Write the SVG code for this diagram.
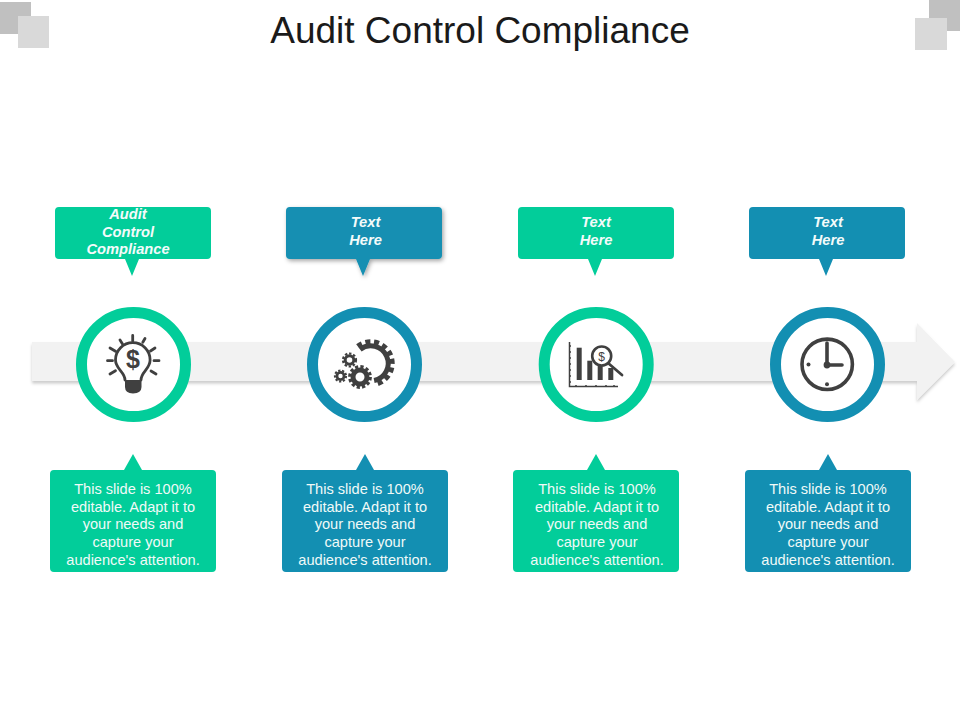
<svg xmlns="http://www.w3.org/2000/svg" width="960" height="720" viewBox="0 0 960 720">
<style>
.t{font-family:"Liberation Sans",Arial,sans-serif;text-anchor:middle;fill:#fff}
.h{font-size:14.7px;font-weight:bold;font-style:italic;fill:#f4fbfa}
.b{font-size:14.6px;fill:#f0faf8}
.g{fill:#02cd9a}.u{fill:#138fb2}
.rg{fill:#fff;stroke:#02cd9a;stroke-width:11}.ru{fill:#fff;stroke:#138fb2;stroke-width:11}
.i{fill:none;stroke:#404040;stroke-width:2.8;stroke-linecap:round}
.d{fill:#404040}
.gr{fill:none;stroke:#404040}
</style>
<defs>
<filter id="s" x="-10%" y="-20%" width="120%" height="150%"><feDropShadow dx="0" dy="2.500" stdDeviation="1.500" flood-color="#000" flood-opacity=".2"/></filter>
<filter id="s2" x="-10%" y="-20%" width="120%" height="150%"><feDropShadow dx="1.500" dy="2" stdDeviation="2" flood-color="#000" flood-opacity=".35"/></filter>
<path id="top" d="M4 0H152a4 4 0 0 1 4 4V48a4 4 0 0 1-4 4H84L77 69 70 52H4a4 4 0 0 1-4-4V4a4 4 0 0 1 4-4Z"/>
<path id="bot" d="M4 16H74L83 0 92 16H162a4 4 0 0 1 4 4V114a4 4 0 0 1-4 4H4a4 4 0 0 1-4-4V20a4 4 0 0 1 4-4Z"/>
</defs>
<rect width="960" height="720" fill="#fff"/>
<g id="corners">
<rect x="0" y="2" width="31" height="32" fill="#c0c0c0"/>
<rect x="18" y="16" width="31" height="32" fill="#d9d9d9"/>
<rect x="929" y="0" width="31" height="31" fill="#c0c0c0"/>
<rect x="915" y="18" width="32" height="32" fill="#d9d9d9"/>
</g>
<text id="title" x="480" y="43" font-family="'Liberation Sans',Arial,sans-serif" font-size="37" text-anchor="middle" fill="#1a1a1a">Audit Control Compliance</text>
<g id="connectors">
<path id="arrow" d="M32 342H917V323L955 362 917 400V381H32Z" fill="#f2f2f2" filter="url(#s)"/>
</g>
<g id="node-1">
<use href="#top" x="55" y="207" class="g"/>
<text class="t h"><tspan x="128" y="218.500">Audit</tspan><tspan x="128" y="236.500">Control</tspan><tspan x="128" y="254">Compliance</tspan></text>
<circle cx="133.500" cy="364.500" r="52" class="rg"/>
<g class="i">
<path d="M125 380C125 372 115.500 369 115.500 360a17.300 17.300 0 1 1 34.600 0C150.100 369 141 372 141 380"/>
<path d="M132.700 335.500v5.500M120 340l2.500 4M145 338.500l-2.200 3.800M110 348l5.500 3.300M155 348l-4.500 3M107.500 360.700h5M159 360.700h-5M110 374l5.500-3.300M156 374l-5-3"/>
</g>
<path class="d" d="M125 380H141.500V387Q141.500 393 133 393.500 125 393 125 387Z"/>
<text x="133" y="368" font-family="'Liberation Sans',sans-serif" font-size="25" font-weight="bold" text-anchor="middle" fill="#404040">$</text>
</g>
<g id="node-2">
<use href="#top" x="286" y="207" class="u" filter="url(#s2)"/>
<text class="t h"><tspan x="365.500" y="226.500">Text</tspan><tspan x="365.500" y="244.500">Here</tspan></text>
<circle cx="364.500" cy="364.500" r="52" class="ru"/>
<path class="gr" d="M360.100 349.400A17.500 17.500 0 1 1 374.100 380.500" stroke-width="5"/>
<path class="gr" d="M357.700 346.200A21.500 21.500 0 1 1 374.900 384.400" stroke-width="5" stroke-dasharray="5 3.600"/>
<circle class="gr" cx="360" cy="377" r="7" stroke-width="5"/>
<circle class="gr" cx="360" cy="377" r="10.300" stroke-width="3.200" stroke-dasharray="3.200 2.200"/>
<circle class="gr" cx="349.500" cy="360" r="4.300" stroke-width="3"/>
<circle class="gr" cx="349.500" cy="360" r="6.500" stroke-width="2.200" stroke-dasharray="2.400 1.800"/>
<circle class="gr" cx="340.500" cy="376" r="3.600" stroke-width="2.800"/>
<circle class="gr" cx="340.500" cy="376" r="5.600" stroke-width="2" stroke-dasharray="2.200 1.700"/>
</g>
<g id="node-3">
<use href="#top" x="518" y="207" class="g"/>
<text class="t h"><tspan x="596" y="226.500">Text</tspan><tspan x="596" y="244.500">Here</tspan></text>
<circle cx="596.200" cy="364.500" r="52" class="rg"/>
<path d="M569.500 342V386.500H618" fill="none" stroke="#404040" stroke-width="1.500"/>
<path d="M571 346h-1M571 352h-1M571 358h-1M571 364h-1M571 370h-1M571 376h-1M571 382h-1M576 385v1M586 385v1M596 385v1M606 385v1M614 385v1" stroke="#404040" stroke-width="1.500"/>
<rect class="d" x="576.700" y="347.700" width="5" height="32.300"/>
<rect class="d" x="587.300" y="360.700" width="5" height="19.300"/>
<rect class="d" x="597.700" y="366" width="5" height="14"/>
<rect class="d" x="608.300" y="368" width="5" height="12"/>
<path d="M608 363L622 375" stroke="#404040" stroke-width="2.800" stroke-linecap="round"/>
<circle cx="601.700" cy="356" r="9.500" fill="#fff" stroke="#404040" stroke-width="2.600"/>
<text x="601.700" y="360.500" font-family="'Liberation Sans',sans-serif" font-size="12" text-anchor="middle" fill="#404040">$</text>
</g>
<g id="node-4">
<use href="#top" x="749" y="207" class="u"/>
<text class="t h"><tspan x="828" y="226.500">Text</tspan><tspan x="828" y="244.500">Here</tspan></text>
<circle cx="827.500" cy="364.500" r="52" class="ru"/>
<circle cx="827.200" cy="364.300" r="25.200" fill="#fff" stroke="#404040" stroke-width="3.600"/>
<path d="M827 343V365H842" fill="none" stroke="#404040" stroke-width="3.600" stroke-linecap="round"/>
<circle class="d" cx="827" cy="365" r="3.400"/>
<circle class="d" cx="808.500" cy="364.500" r="2"/>
<circle class="d" cx="827" cy="384.300" r="2"/>
</g>
<g id="text-1">
<use href="#bot" x="50" y="454" class="g"/>
<text class="t b"><tspan x="133" y="493.700">This slide is 100%</tspan><tspan x="133" y="511.500">editable. Adapt it to</tspan><tspan x="133" y="529">your needs and</tspan><tspan x="133" y="546.800">capture your</tspan><tspan x="133" y="564.500">audience's attention.</tspan></text>
</g>
<g id="text-2">
<use href="#bot" x="282" y="454" class="u"/>
<text class="t b"><tspan x="365" y="493.700">This slide is 100%</tspan><tspan x="365" y="511.500">editable. Adapt it to</tspan><tspan x="365" y="529">your needs and</tspan><tspan x="365" y="546.800">capture your</tspan><tspan x="365" y="564.500">audience's attention.</tspan></text>
</g>
<g id="text-3">
<use href="#bot" x="513" y="454" class="g"/>
<text class="t b"><tspan x="597" y="493.700">This slide is 100%</tspan><tspan x="597" y="511.500">editable. Adapt it to</tspan><tspan x="597" y="529">your needs and</tspan><tspan x="597" y="546.800">capture your</tspan><tspan x="597" y="564.500">audience's attention.</tspan></text>
</g>
<g id="text-4">
<use href="#bot" x="745" y="454" class="u"/>
<text class="t b"><tspan x="828" y="493.700">This slide is 100%</tspan><tspan x="828" y="511.500">editable. Adapt it to</tspan><tspan x="828" y="529">your needs and</tspan><tspan x="828" y="546.800">capture your</tspan><tspan x="828" y="564.500">audience's attention.</tspan></text>
</g>
</svg>
